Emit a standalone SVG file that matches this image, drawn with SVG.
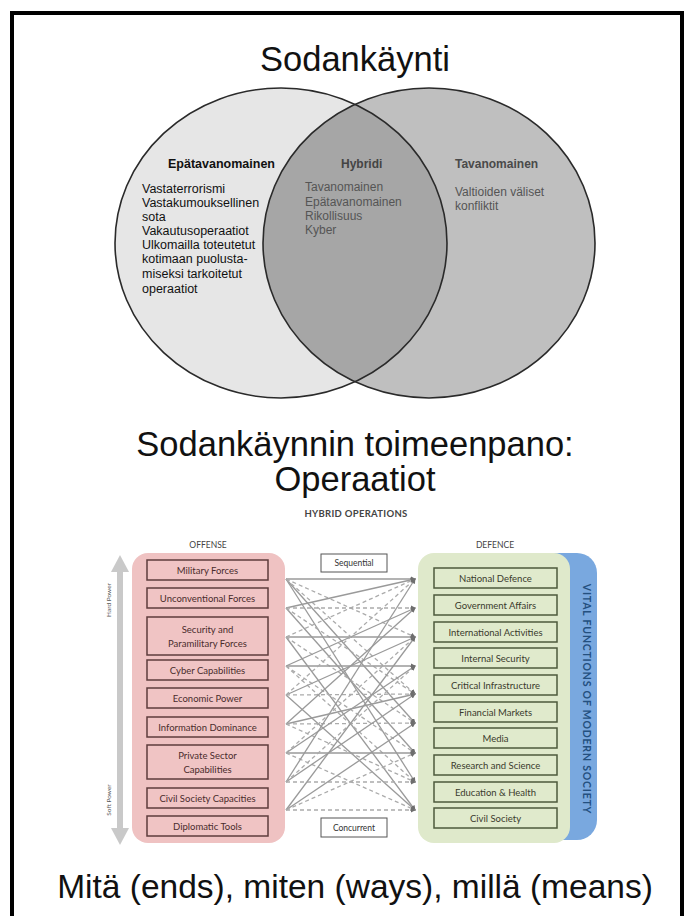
<svg xmlns="http://www.w3.org/2000/svg" width="691" height="916" viewBox="0 0 691 916">
<style>
.big{font-family:"Liberation Sans",Arial,sans-serif;font-size:34.5px;fill:#111;text-anchor:middle}
.vh{font-family:"Liberation Sans",Arial,sans-serif;font-size:12.5px;font-weight:bold}
.vt{font-family:"Liberation Sans",Arial,sans-serif;font-size:12.5px}
.lbl{font-family:Lato,"Open Sans",sans-serif;font-weight:bold;fill:#444;text-anchor:middle}
.ob{fill:#f0c4c4;stroke:#5e3c3c;stroke-width:1.5}
.ot{font-family:Lato,"Open Sans",sans-serif;font-size:9.5px;fill:#4a2c2c;text-anchor:middle}
.db{fill:#e0eacc;stroke:#4e5a3c;stroke-width:1.5}
.dt{font-family:Lato,"Open Sans",sans-serif;font-size:9.5px;fill:#3a3a2c;text-anchor:middle}
.s{stroke:#9a9a9a;stroke-width:1.3;fill:none;marker-end:url(#ah)}
.d{stroke:#ababab;stroke-width:1.3;fill:none;stroke-dasharray:4 3;marker-end:url(#ah)}
.sb{fill:#fff;stroke:#555;stroke-width:1}
.st{font-family:Lato,"Open Sans",sans-serif;font-size:8.5px;fill:#333;text-anchor:middle}
</style>
<defs>
<clipPath id="clipL"><ellipse cx="281" cy="243" rx="166" ry="155"/></clipPath>
<marker id="ah" viewBox="0 0 6 6" refX="5" refY="3" markerWidth="4" markerHeight="4" orient="auto"><path d="M0,0 L6,3 L0,6 z" fill="#6e6e6e"/></marker>
</defs>
<rect width="691" height="916" fill="#fff"/>
<rect x="12" y="13" width="670" height="930" fill="none" stroke="#000" stroke-width="4"/>

<text class="big" x="355" y="71">Sodankäynti</text>

<g id="venn">
<ellipse cx="281" cy="243" rx="166" ry="155" fill="#e6e6e6"/>
<ellipse cx="429" cy="243" rx="166" ry="155" fill="#bfbfbf"/>
<ellipse cx="429" cy="243" rx="166" ry="155" fill="#a6a6a6" clip-path="url(#clipL)"/>
<ellipse cx="281" cy="243" rx="166" ry="155" fill="none" stroke="#2a2a2a" stroke-width="1.6"/>
<ellipse cx="429" cy="243" rx="166" ry="155" fill="none" stroke="#2a2a2a" stroke-width="1.6"/>
</g>
<g id="epatavanomainen">
<text class="vh" x="168" y="168" fill="#111">Epätavanomainen</text>
<text class="vt" fill="#111"><tspan x="142" y="193">Vastaterrorismi</tspan><tspan x="142" y="207">Vastakumouksellinen</tspan><tspan x="142" y="221">sota</tspan><tspan x="142" y="235">Vakautusoperaatiot</tspan><tspan x="142" y="249">Ulkomailla toteutetut</tspan><tspan x="142" y="263">kotimaan puolusta-</tspan><tspan x="142" y="278">miseksi tarkoitetut</tspan><tspan x="142" y="293">operaatiot</tspan></text>
</g>
<g id="hybridi">
<text class="vh" x="341" y="168" fill="#444" style="font-size:12px">Hybridi</text>
<text class="vt" fill="#555" style="font-size:12px"><tspan x="305" y="191">Tavanomainen</tspan><tspan x="305" y="206">Epätavanomainen</tspan><tspan x="305" y="220">Rikollisuus</tspan><tspan x="305" y="234">Kyber</tspan></text>
</g>
<g id="tavanomainen">
<text class="vh" x="455" y="168" fill="#4a4a4a" style="font-size:12px">Tavanomainen</text>
<text class="vt" fill="#555" style="font-size:12px"><tspan x="455" y="196">Valtioiden väliset</tspan><tspan x="455" y="210">konfliktit</tspan></text>
</g>

<text class="big" x="355" y="456">Sodankäynnin toimeenpano:</text>
<text class="big" x="355" y="491">Operaatiot</text>

<text class="lbl" x="356" y="517" font-size="9.5" letter-spacing="0.3">HYBRID OPERATIONS</text>
<text class="lbl" x="208" y="548" font-size="8.5" style="font-weight:normal">OFFENSE</text>
<text class="lbl" x="495" y="548" font-size="8.5" style="font-weight:normal">DEFENCE</text>

<g id="power-axis">
<rect x="117" y="570" width="6" height="260" fill="#c9c9c9"/>
<polygon points="111,572 120,555 129,572" fill="#c9c9c9"/>
<polygon points="111,828 120,845 129,828" fill="#c9c9c9"/>
<text transform="translate(111,600) rotate(-90)" font-family="Lato,sans-serif" font-size="6.5" fill="#555" text-anchor="middle">Hard Power</text>
<text transform="translate(111,800) rotate(-90)" font-family="Lato,sans-serif" font-size="6.5" fill="#555" text-anchor="middle">Soft Power</text>
</g>

<g id="offense">
<rect x="132" y="553" width="153" height="290" rx="16" fill="#efc2c2"/>
<g id="o1"><rect class="ob" x="147" y="560" width="121" height="20"/><text class="ot" x="207.5" y="573.5">Military Forces</text></g>
<g id="o2"><rect class="ob" x="147" y="588" width="121" height="20"/><text class="ot" x="207.5" y="601.5">Unconventional Forces</text></g>
<g id="o3"><rect class="ob" x="147" y="617" width="121" height="38"/><text class="ot" x="207.5" y="633">Security and</text><text class="ot" x="207.5" y="647">Paramilitary Forces</text></g>
<g id="o4"><rect class="ob" x="147" y="660" width="121" height="20"/><text class="ot" x="207.5" y="673.5">Cyber Capabilities</text></g>
<g id="o5"><rect class="ob" x="147" y="688" width="121" height="20"/><text class="ot" x="207.5" y="701.5">Economic Power</text></g>
<g id="o6"><rect class="ob" x="147" y="717" width="121" height="20"/><text class="ot" x="207.5" y="730.5">Information Dominance</text></g>
<g id="o7"><rect class="ob" x="147" y="745" width="121" height="34"/><text class="ot" x="207.5" y="759">Private Sector</text><text class="ot" x="207.5" y="773">Capabilities</text></g>
<g id="o8"><rect class="ob" x="147" y="788" width="121" height="20"/><text class="ot" x="207.5" y="801.5">Civil Society Capacities</text></g>
<g id="o9"><rect class="ob" x="147" y="816" width="121" height="20"/><text class="ot" x="207.5" y="829.5">Diplomatic Tools</text></g>
</g>

<g id="defence">
<rect x="530" y="553" width="67" height="287" rx="20" fill="#79a8df"/>
<rect x="418" y="553" width="152" height="290" rx="16" fill="#dfe9cb"/>
<text transform="translate(583,699) rotate(90)" font-family="Lato,sans-serif" font-weight="bold" font-size="10.5" letter-spacing="0.8" fill="#24507f" text-anchor="middle">VITAL FUNCTIONS OF MODERN SOCIETY</text>
<g id="d1"><rect class="db" x="434" y="568" width="123" height="20"/><text class="dt" x="495.5" y="581.5">National Defence</text></g>
<g id="d2"><rect class="db" x="434" y="595" width="123" height="20"/><text class="dt" x="495.5" y="608.5">Government Affairs</text></g>
<g id="d3"><rect class="db" x="434" y="622" width="123" height="20"/><text class="dt" x="495.5" y="635.5">International Activities</text></g>
<g id="d4"><rect class="db" x="434" y="648" width="123" height="20"/><text class="dt" x="495.5" y="661.5">Internal Security</text></g>
<g id="d5"><rect class="db" x="434" y="675" width="123" height="20"/><text class="dt" x="495.5" y="688.5">Critical Infrastructure</text></g>
<g id="d6"><rect class="db" x="434" y="702" width="123" height="20"/><text class="dt" x="495.5" y="715.5">Financial Markets</text></g>
<g id="d7"><rect class="db" x="434" y="728" width="123" height="20"/><text class="dt" x="495.5" y="741.5">Media</text></g>
<g id="d8"><rect class="db" x="434" y="755" width="123" height="20"/><text class="dt" x="495.5" y="768.5">Research and Science</text></g>
<g id="d9"><rect class="db" x="434" y="782" width="123" height="20"/><text class="dt" x="495.5" y="795.5">Education &amp; Health</text></g>
<g id="d10"><rect class="db" x="434" y="808" width="123" height="20"/><text class="dt" x="495.5" y="821.5">Civil Society</text></g>
</g>

<g id="sequential"><rect class="sb" x="321" y="554" width="66" height="18"/><text class="st" x="354" y="566">Sequential</text></g>
<g id="concurrent"><rect class="sb" x="321" y="818" width="66" height="19"/><text class="st" x="354" y="830.5">Concurrent</text></g>

<g id="connectors">
<path class="s" d="M286,579 L415,579"/>
<path class="s" d="M286,579 L415,782"/>
<path class="s" d="M286,579 L415,723"/>
<path class="d" d="M286,579 L415,637"/>
<path class="d" d="M286,579 L415,694"/>
<path class="s" d="M286,608 L415,579"/>
<path class="d" d="M286,608 L415,608"/>
<path class="s" d="M286,608 L415,753"/>
<path class="d" d="M286,608 L415,694"/>
<path class="s" d="M286,637 L415,637"/>
<path class="s" d="M286,637 L415,810"/>
<path class="d" d="M286,637 L415,579"/>
<path class="d" d="M286,637 L415,723"/>
<path class="s" d="M286,666 L415,666"/>
<path class="s" d="M286,666 L415,608"/>
<path class="d" d="M286,666 L415,753"/>
<path class="d" d="M286,666 L415,782"/>
<path class="s" d="M286,695 L415,810"/>
<path class="s" d="M286,695 L415,637"/>
<path class="d" d="M286,695 L415,694"/>
<path class="d" d="M286,695 L415,579"/>
<path class="s" d="M286,724 L415,694"/>
<path class="s" d="M286,724 L415,608"/>
<path class="d" d="M286,724 L415,782"/>
<path class="d" d="M286,724 L415,723"/>
<path class="s" d="M286,753 L415,753"/>
<path class="s" d="M286,753 L415,666"/>
<path class="d" d="M286,753 L415,637"/>
<path class="d" d="M286,753 L415,810"/>
<path class="s" d="M286,782 L415,579"/>
<path class="s" d="M286,782 L415,694"/>
<path class="d" d="M286,782 L415,782"/>
<path class="d" d="M286,782 L415,666"/>
<path class="s" d="M286,810 L415,637"/>
<path class="s" d="M286,810 L415,723"/>
<path class="d" d="M286,810 L415,810"/>
<path class="d" d="M286,810 L415,753"/>
</g>

<text class="big" x="355" y="898" style="font-size:33.5px">Mitä (ends), miten (ways), millä (means)</text>
</svg>
